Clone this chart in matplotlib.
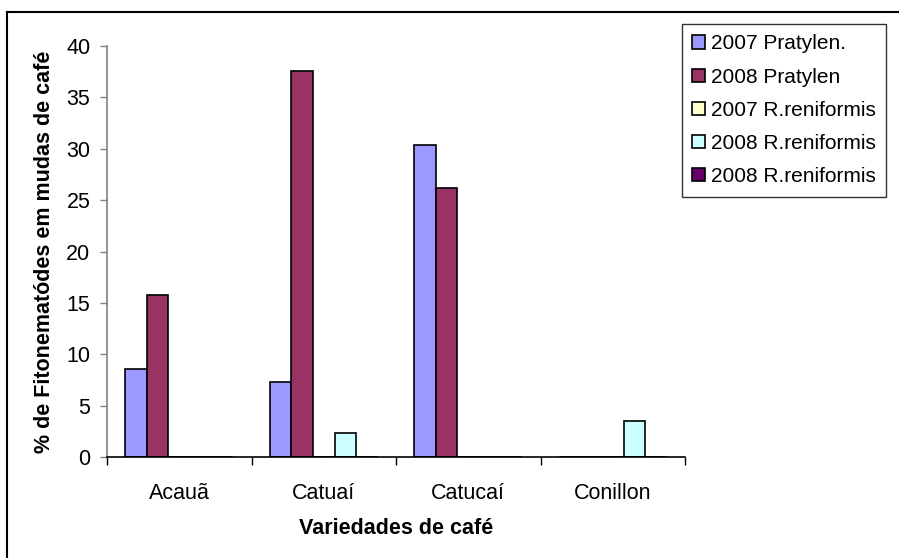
import numpy as np
import matplotlib
matplotlib.use("Agg")
import matplotlib.pyplot as plt
from matplotlib.lines import Line2D

plt.rcParams['font.family'] = ['Liberation Sans', 'DejaVu Sans']

categorias = ["Acauã", "Catuaí", "Catucaí", "Conillon"]
series = ["2007 Pratylen.", "2008 Pratylen", "2007 R.reniformis",
          "2008 R.reniformis", "2008 R.reniformis"]
valores = [
    [8.6, 7.3, 30.4, 0.0],    # 2007 Pratylen.
    [15.8, 37.6, 26.2, 0.0],  # 2008 Pratylen
    [0.0, 0.0, 0.0, 0.0],     # 2007 R.reniformis
    [0.0, 2.3, 0.0, 3.5],     # 2008 R.reniformis
    [0.0, 0.0, 0.0, 0.0],     # 2008 R.reniformis
]
cores = ["#9999FF", "#993366", "#FFFFCC", "#CCFFFF", "#660066"]

fs = 15.5
fig = plt.figure(figsize=(8.99, 5.58), dpi=100)
ax = fig.add_axes([107/899, 1-457/558, (685-107)/899, (457-46)/558])

x = np.arange(len(categorias))
w = 0.149
for i, (nome, vals) in enumerate(zip(series, valores)):
    ax.bar(x + (i - 2) * w, vals, w, color=cores[i], edgecolor="black",
           linewidth=1.2, label=nome)

ax.set_xlim(-0.5, 3.5)
ax.set_ylim(0, 40)
ax.set_yticks(np.arange(0, 41, 5))
ax.set_xticks(x)
ax.set_xticklabels(categorias)
ax.set_xticks(np.arange(-0.5, 3.6, 1), minor=True)
ax.tick_params(axis="x", which="major", length=0, pad=19, labelsize=fs)
ax.tick_params(axis="x", which="minor", length=6, width=1, direction="out")
ax.tick_params(axis="y", length=5, width=1, color="#808080", labelsize=fs, pad=7)

for s in ["top", "right"]:
    ax.spines[s].set_visible(False)
ax.spines["left"].set_color("#808080")
ax.spines["left"].set_linewidth(1.2)
ax.spines["bottom"].set_color("black")
ax.spines["bottom"].set_linewidth(1.2)

ax.set_xlabel("Variedades de café", fontsize=fs, fontweight="bold", labelpad=10)
ax.set_ylabel("% de Fitonematódes em mudas de café", fontsize=fs,
              fontweight="bold", labelpad=8)

leg = fig.legend(loc="upper left", bbox_to_anchor=(682/899, 1-24/558),
                 fontsize=15, frameon=True, fancybox=False, handlelength=0.6,
                 handleheight=0.6, handletextpad=0.3, labelspacing=0.68,
                 borderpad=0.5, borderaxespad=0)
leg.get_frame().set_edgecolor("black")
leg.get_frame().set_linewidth(1.0)

fig.add_artist(Line2D([7/899, 1], [1-12/558, 1-12/558], color="black", lw=1.5,
                      transform=fig.transFigure))
fig.add_artist(Line2D([7/899, 7/899], [0, 1-12/558], color="black", lw=1.5,
                      transform=fig.transFigure))

fig.savefig("out.png", dpi=100)
